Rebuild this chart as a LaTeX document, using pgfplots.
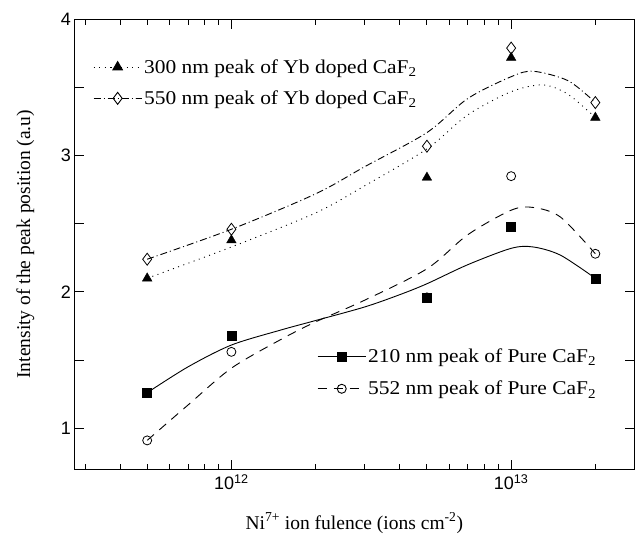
\documentclass[border=0pt]{standalone}
\usepackage{fontspec}
\setmainfont{Liberation Serif}
\newfontfamily\arial{Liberation Sans}
\newfontfamily\legfont[FakeStretch=1.1]{Liberation Serif}
\usepackage{pgfplots}
\pgfplotsset{compat=1.18}
\tikzset{
  dotline/.style={black, line width=0.9pt, dash pattern=on 1pt off 4.5pt},
  dashdotline/.style={black, line width=0.9pt, dash pattern=on 7pt off 3pt on 1pt off 3pt},
  solidline/.style={black, line width=0.9pt},
  dashline/.style={black, line width=0.9pt, dash pattern=on 9pt off 7pt},
}
\begin{document}
\begin{tikzpicture}
\useasboundingbox (-74.5pt,-64pt) rectangle (562.5pt,469pt);
\begin{axis}[xmode=log, scale only axis, width=559.5pt, height=449.5pt,
  xmin=2.75e11, xmax=2.75e13, ymin=0.7, ymax=4,
  axis line style={line width=0.9pt},
  xtick={1e12,1e13}, xticklabels={10\textsuperscript{12},10\textsuperscript{13}},
  minor xtick={3e11,4e11,5e11,6e11,7e11,8e11,9e11,2e12,3e12,4e12,5e12,6e12,7e12,8e12,9e12,2e13},
  ytick={1,1.5,...,4}, yticklabels={1,,2,,3,,4},
  tick align=inside, major tick length=9pt, minor tick length=5pt,
  every tick/.style={black, line width=0.9pt},
  tick label style={font=\arial\fontsize{18}{18}\selectfont},
  xticklabel style={yshift=-2pt},
  xlabel={Ni\textsuperscript{7+} ion fulence (ions cm\textsuperscript{-2})},
  ylabel={Intensity of the peak position (a.u)},
  label style={font=\fontsize{19.5}{19.5}\selectfont},
  xlabel style={at={(axis description cs:0.5,0)}, anchor=base, yshift=-60pt},
  ylabel style={at={(axis description cs:-0.088,0.5)}, anchor=center},
  legend image code/.code={\draw[mark repeat=2,mark phase=2,#1]
    plot coordinates {(0pt,0pt) (24pt,0pt) (48pt,0pt)};},
  legend style={draw=none, fill=none, inner sep=0pt,
    font=\legfont\fontsize{19.5}{19.5}\selectfont, row sep=12pt,
    cells={anchor=west}, at={(0.033,0.916)}, anchor=north west},
]
\addplot[dotline, smooth, tension=0.5,
  legend image post style={mark=triangle*, mark size=5.5pt, mark options={solid, fill=black}}]
  coordinates {(5e11,2.10) (1e12,2.33) (2e12,2.58) (3e12,2.78) (5e12,3.05)
               (7e12,3.30) (1e13,3.47) (1.3e13,3.52) (1.6e13,3.45) (2e13,3.28)};
\addlegendentry{300 nm peak of Yb doped CaF\textsubscript{2}}
\addplot[dashdotline, smooth, tension=0.5,
  legend image post style={mark=diamond, mark size=6pt, mark options={solid, fill=white}}]
  coordinates {(5e11,2.24) (1e12,2.46) (2e12,2.72) (3e12,2.92) (5e12,3.17)
               (7e12,3.42) (1e13,3.58) (1.2e13,3.62) (1.6e13,3.55) (2e13,3.39)};
\addlegendentry{550 nm peak of Yb doped CaF\textsubscript{2}}
\addplot[only marks, mark=triangle*, mark size=5.5pt, black, forget plot]
  coordinates {(5e11,2.10) (1e12,2.38) (5e12,2.84) (1e13,3.72) (2e13,3.28)};
\addplot[only marks, mark=diamond, mark size=6pt, black, fill=white, line width=0.8pt, forget plot]
  coordinates {(5e11,2.24) (1e12,2.46) (5e12,3.07) (1e13,3.79) (2e13,3.39)};
\end{axis}
\begin{axis}[xmode=log, scale only axis, width=559.5pt, height=449.5pt,
  xmin=2.75e11, xmax=2.75e13, ymin=0.7, ymax=4, hide axis,
  legend image code/.code={\draw[mark repeat=2,mark phase=2,#1]
    plot coordinates {(0pt,0pt) (24pt,0pt) (48pt,0pt)};},
  legend style={draw=none, fill=none, inner sep=0pt,
    font=\legfont\fontsize{19.5}{19.5}\selectfont, row sep=13pt,
    cells={anchor=west}, at={(0.4335,0.272)}, anchor=north west},
]
\addplot[solidline, smooth, tension=0.5,
  legend image post style={mark=square*, mark size=4.5pt, mark options={solid, fill=black}}]
  coordinates {(5e11,1.26) (7e11,1.45) (1e12,1.61) (1.5e12,1.72) (2e12,1.79)
               (3e12,1.89) (4e12,1.98) (5e12,2.06) (7e12,2.20) (1e13,2.32)
               (1.2e13,2.33) (1.5e13,2.27) (2e13,2.10)};
\addlegendentry{210 nm peak of Pure CaF\textsubscript{2}}
\addplot[dashline, smooth, tension=0.5,
  legend image post style={mark=o, mark size=4.5pt, mark options={solid, fill=white}}]
  coordinates {(5e11,0.91) (7e11,1.17) (1e12,1.44) (1.5e12,1.65) (2e12,1.78)
               (3e12,1.94) (5e12,2.17) (7e12,2.42) (1e13,2.60) (1.2e13,2.62)
               (1.5e13,2.55) (2e13,2.28)};
\addlegendentry{552 nm peak of Pure CaF\textsubscript{2}}
\addplot[only marks, mark=square*, mark size=4.5pt, black, forget plot]
  coordinates {(5e11,1.26) (1e12,1.68) (5e12,1.96) (1e13,2.48) (2e13,2.10)};
\addplot[only marks, mark=o, mark size=4.5pt, black, line width=0.8pt, forget plot]
  coordinates {(5e11,0.91) (1e12,1.56) (5e12,1.96) (1e13,2.85) (2e13,2.28)};
\end{axis}
\end{tikzpicture}
\end{document}
